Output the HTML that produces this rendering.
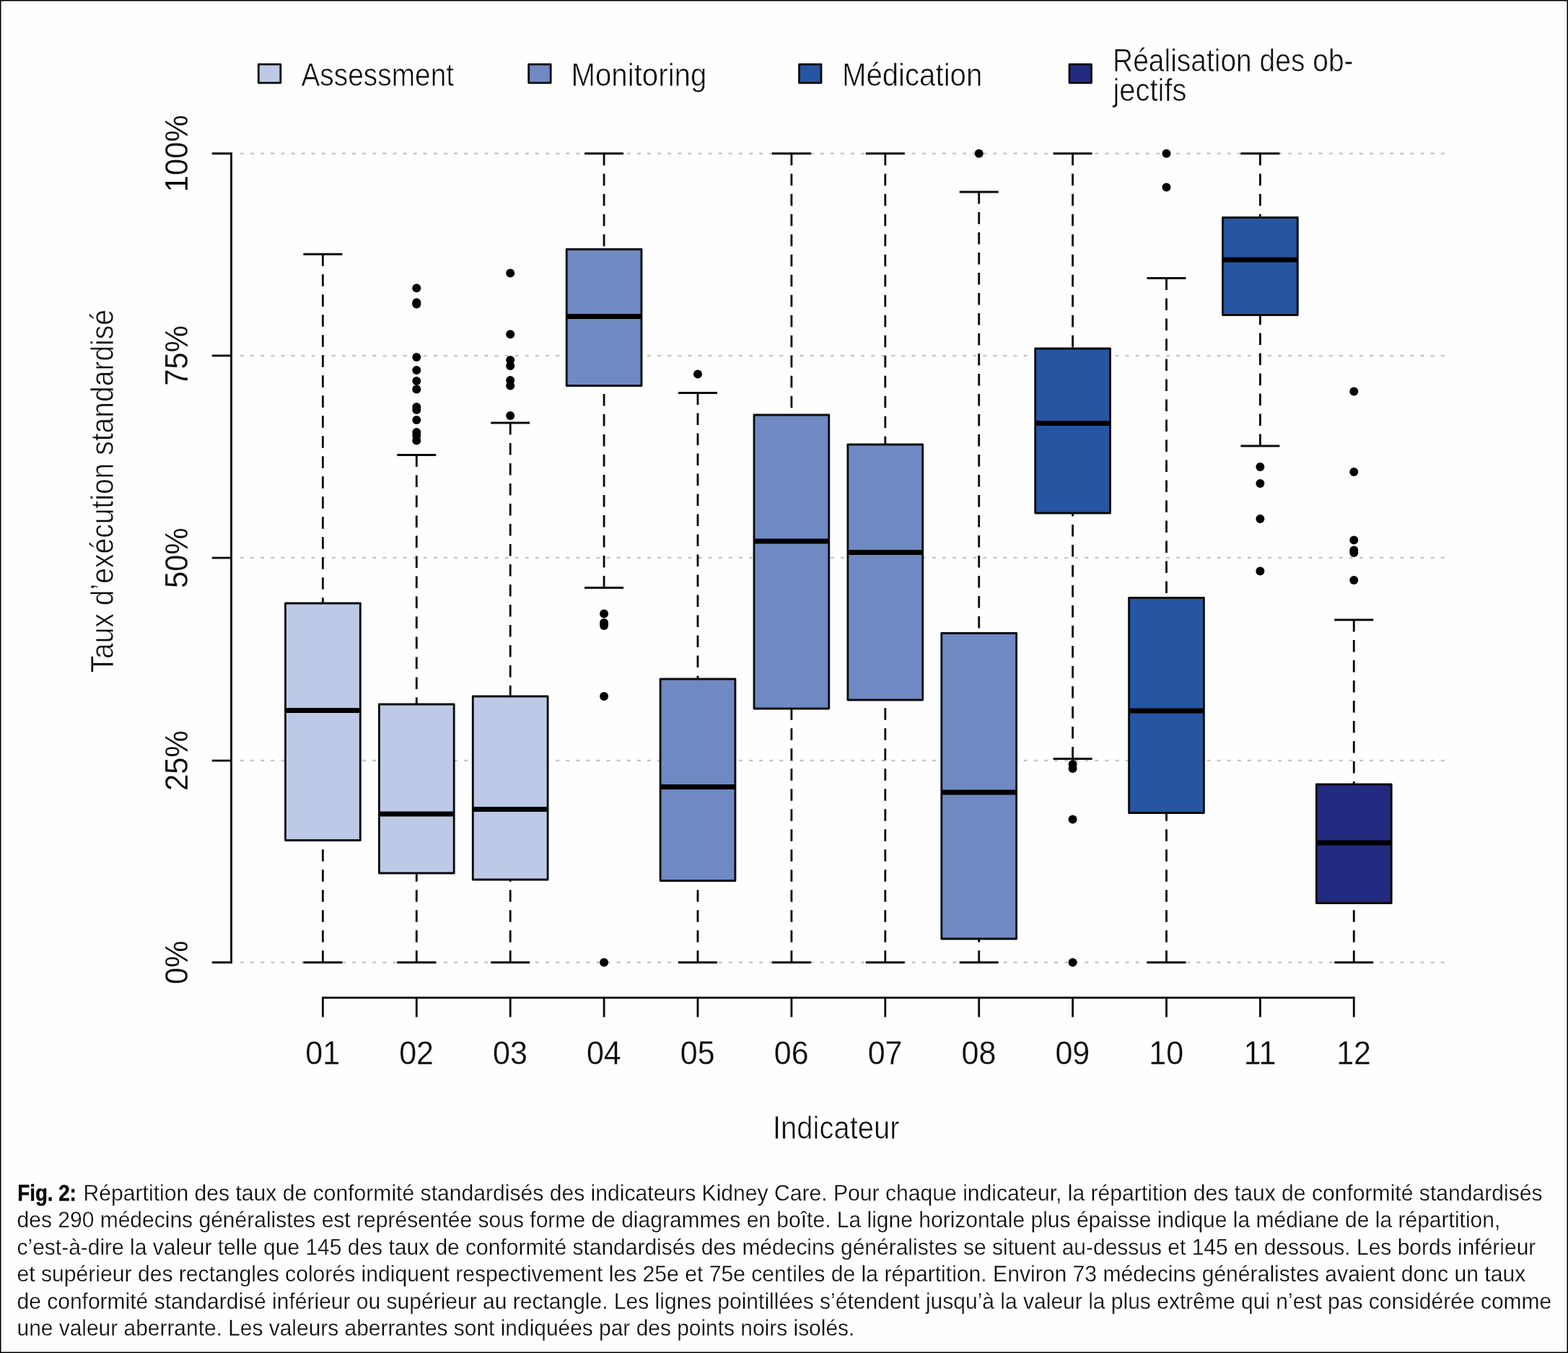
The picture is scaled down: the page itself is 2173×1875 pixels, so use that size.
<!DOCTYPE html>
<html lang="fr"><head><meta charset="utf-8">
<title>Fig. 2</title>
<style>
html,body{margin:0;padding:0;background:#fff;}
body{width:2173px;height:1875px;overflow:hidden;position:relative;}
svg{position:absolute;left:0;top:0;display:block;}
text{font-family:"Liberation Sans",sans-serif;fill:#0a0a0a;stroke:#fefefe;stroke-linejoin:round;}
.lg{font-size:44px;stroke-width:0.7px;}
.ax{font-size:45.5px;stroke-width:0.25px;}
.ay{font-size:44px;stroke-width:0.15px;}
.cap{font-size:31.5px;stroke-width:0.3px;}
.b{font-weight:bold;stroke:#0a0a0a;stroke-width:0.5px;}
</style></head><body>
<svg width="2173" height="1875" viewBox="0 0 2173 1875">
<rect x="0" y="0" width="2173" height="1875" fill="#fefefe"/>
<rect x="0" y="0" width="2173" height="1875" fill="none" stroke="#000" stroke-width="3"/>
<g stroke="#c6c6c6" stroke-width="2.5" stroke-dasharray="2.8 11.3" stroke-linecap="round" fill="none">
<line x1="334.1" y1="1333.75" x2="2006" y2="1333.75"/>
<line x1="334.1" y1="1054.10" x2="2006" y2="1054.10"/>
<line x1="334.1" y1="773.10" x2="2006" y2="773.10"/>
<line x1="334.1" y1="492.90" x2="2006" y2="492.90"/>
<line x1="334.1" y1="212.75" x2="2006" y2="212.75"/>
</g>
<rect x="358.30" y="89.20" width="30.5" height="25.6" fill="#bdc9e7" stroke="#0a0a0a" stroke-width="2.8" stroke-linejoin="round"/>
<text class="lg" x="417.40" y="119.30" textLength="211.70" lengthAdjust="spacingAndGlyphs">Assessment</text>
<rect x="732.70" y="89.20" width="30.5" height="25.6" fill="#6f89c3" stroke="#0a0a0a" stroke-width="2.8" stroke-linejoin="round"/>
<text class="lg" x="791.40" y="119.00" textLength="188.00" lengthAdjust="spacingAndGlyphs">Monitoring</text>
<rect x="1107.50" y="89.20" width="30.5" height="25.6" fill="#2656a1" stroke="#0a0a0a" stroke-width="2.8" stroke-linejoin="round"/>
<text class="lg" x="1166.90" y="119.00" textLength="194.40" lengthAdjust="spacingAndGlyphs">Médication</text>
<rect x="1482.00" y="89.20" width="30.5" height="25.6" fill="#232b81" stroke="#0a0a0a" stroke-width="2.8" stroke-linejoin="round"/>
<text class="lg" x="1542.00" y="98.50" textLength="333.60" lengthAdjust="spacingAndGlyphs">Réalisation des ob-</text>
<text class="lg" x="1542.50" y="140.00" textLength="102.00" lengthAdjust="spacingAndGlyphs">jectifs</text>
<g stroke="#0a0a0a" stroke-width="2.85" fill="none" stroke-linecap="butt">
<path d="M293.7 212.75 H320.5 V1333.75 H293.7"/>
<line x1="293.7" y1="1054.10" x2="320.5" y2="1054.10"/>
<line x1="293.7" y1="773.10" x2="320.5" y2="773.10"/>
<line x1="293.7" y1="492.90" x2="320.5" y2="492.90"/>
<path d="M447.40 1409.5 V1382.6 H1876.30 V1409.5"/>
<line x1="577.30" y1="1382.6" x2="577.30" y2="1409.5"/>
<line x1="707.20" y1="1382.6" x2="707.20" y2="1409.5"/>
<line x1="837.10" y1="1382.6" x2="837.10" y2="1409.5"/>
<line x1="967.00" y1="1382.6" x2="967.00" y2="1409.5"/>
<line x1="1096.90" y1="1382.6" x2="1096.90" y2="1409.5"/>
<line x1="1226.80" y1="1382.6" x2="1226.80" y2="1409.5"/>
<line x1="1356.70" y1="1382.6" x2="1356.70" y2="1409.5"/>
<line x1="1486.60" y1="1382.6" x2="1486.60" y2="1409.5"/>
<line x1="1616.50" y1="1382.6" x2="1616.50" y2="1409.5"/>
<line x1="1746.40" y1="1382.6" x2="1746.40" y2="1409.5"/>
</g>
<text class="ay" text-anchor="middle" transform="translate(260 1333.85) rotate(-90) scale(0.95 1)">0%</text>
<text class="ay" text-anchor="middle" transform="translate(260 1054.20) rotate(-90) scale(0.95 1)">25%</text>
<text class="ay" text-anchor="middle" transform="translate(260 773.20) rotate(-90) scale(0.95 1)">50%</text>
<text class="ay" text-anchor="middle" transform="translate(260 493.00) rotate(-90) scale(0.95 1)">75%</text>
<text class="ay" text-anchor="middle" transform="translate(260 212.85) rotate(-90) scale(0.95 1)">100%</text>
<text class="ax" text-anchor="middle" transform="translate(447.15 1474.75) scale(0.945 1)">01</text>
<text class="ax" text-anchor="middle" transform="translate(577.05 1474.75) scale(0.945 1)">02</text>
<text class="ax" text-anchor="middle" transform="translate(706.95 1474.75) scale(0.945 1)">03</text>
<text class="ax" text-anchor="middle" transform="translate(836.85 1474.75) scale(0.945 1)">04</text>
<text class="ax" text-anchor="middle" transform="translate(966.75 1474.75) scale(0.945 1)">05</text>
<text class="ax" text-anchor="middle" transform="translate(1096.65 1474.75) scale(0.945 1)">06</text>
<text class="ax" text-anchor="middle" transform="translate(1226.55 1474.75) scale(0.945 1)">07</text>
<text class="ax" text-anchor="middle" transform="translate(1356.45 1474.75) scale(0.945 1)">08</text>
<text class="ax" text-anchor="middle" transform="translate(1486.35 1474.75) scale(0.945 1)">09</text>
<text class="ax" text-anchor="middle" transform="translate(1616.25 1474.75) scale(0.945 1)">10</text>
<text class="ax" text-anchor="middle" transform="translate(1746.15 1474.75) scale(0.945 1)">11</text>
<text class="ax" text-anchor="middle" transform="translate(1876.05 1474.75) scale(0.945 1)">12</text>
<text class="lg" transform="translate(157 932.5) rotate(-90)" textLength="503.5" lengthAdjust="spacingAndGlyphs">Taux d’exécution standardisé</text>
<text class="lg" x="1071.0" y="1578.0" textLength="175.5" lengthAdjust="spacingAndGlyphs">Indicateur</text>
<g>
<g stroke="#0a0a0a" stroke-width="2.85" fill="none">
<line x1="447.40" y1="352.25" x2="447.40" y2="836.00" stroke-dasharray="16.4 11.6"/>
<line x1="447.40" y1="1333.75" x2="447.40" y2="1164.50" stroke-dasharray="16.4 11.6"/>
<line x1="420.40" y1="352.25" x2="474.40" y2="352.25"/>
<line x1="420.40" y1="1333.75" x2="474.40" y2="1333.75"/>
</g>
<rect x="395.50" y="836.00" width="103.80" height="328.50" fill="#bdc9e7" stroke="#0a0a0a" stroke-width="2.85" stroke-linejoin="round"/>
<line x1="395.50" y1="984.50" x2="499.30" y2="984.50" stroke="#000" stroke-width="7.00"/>
</g>
<g>
<g stroke="#0a0a0a" stroke-width="2.85" fill="none">
<line x1="577.30" y1="630.50" x2="577.30" y2="976.00" stroke-dasharray="16.4 11.6"/>
<line x1="577.30" y1="1333.75" x2="577.30" y2="1210.00" stroke-dasharray="16.4 11.6"/>
<line x1="550.30" y1="630.50" x2="604.30" y2="630.50"/>
<line x1="550.30" y1="1333.75" x2="604.30" y2="1333.75"/>
</g>
<rect x="525.40" y="976.00" width="103.80" height="234.00" fill="#bdc9e7" stroke="#0a0a0a" stroke-width="2.85" stroke-linejoin="round"/>
<line x1="525.40" y1="1128.00" x2="629.20" y2="1128.00" stroke="#000" stroke-width="7.00"/>
<circle cx="577.30" cy="399.25" r="6.00" fill="#000"/>
<circle cx="577.30" cy="419.20" r="6.00" fill="#000"/>
<circle cx="577.30" cy="421.60" r="6.00" fill="#000"/>
<circle cx="577.30" cy="495.00" r="6.00" fill="#000"/>
<circle cx="577.30" cy="513.00" r="6.00" fill="#000"/>
<circle cx="577.30" cy="528.00" r="6.00" fill="#000"/>
<circle cx="577.30" cy="539.50" r="6.00" fill="#000"/>
<circle cx="577.30" cy="564.00" r="6.00" fill="#000"/>
<circle cx="577.30" cy="568.00" r="6.00" fill="#000"/>
<circle cx="577.30" cy="582.00" r="6.00" fill="#000"/>
<circle cx="577.30" cy="599.00" r="6.00" fill="#000"/>
<circle cx="577.30" cy="603.50" r="6.00" fill="#000"/>
<circle cx="577.30" cy="610.50" r="6.00" fill="#000"/>
</g>
<g>
<g stroke="#0a0a0a" stroke-width="2.85" fill="none">
<line x1="707.20" y1="586.00" x2="707.20" y2="965.00" stroke-dasharray="16.4 11.6"/>
<line x1="707.20" y1="1333.75" x2="707.20" y2="1219.00" stroke-dasharray="16.4 11.6"/>
<line x1="680.20" y1="586.00" x2="734.20" y2="586.00"/>
<line x1="680.20" y1="1333.75" x2="734.20" y2="1333.75"/>
</g>
<rect x="655.30" y="965.00" width="103.80" height="254.00" fill="#bdc9e7" stroke="#0a0a0a" stroke-width="2.85" stroke-linejoin="round"/>
<line x1="655.30" y1="1121.50" x2="759.10" y2="1121.50" stroke="#000" stroke-width="7.00"/>
<circle cx="707.20" cy="378.50" r="6.00" fill="#000"/>
<circle cx="707.20" cy="463.25" r="6.00" fill="#000"/>
<circle cx="707.20" cy="499.00" r="6.00" fill="#000"/>
<circle cx="707.20" cy="507.00" r="6.00" fill="#000"/>
<circle cx="707.20" cy="527.00" r="6.00" fill="#000"/>
<circle cx="707.20" cy="534.50" r="6.00" fill="#000"/>
<circle cx="707.20" cy="576.00" r="6.00" fill="#000"/>
</g>
<g>
<g stroke="#0a0a0a" stroke-width="2.85" fill="none">
<line x1="837.10" y1="212.75" x2="837.10" y2="345.50" stroke-dasharray="16.4 11.6"/>
<line x1="837.10" y1="814.50" x2="837.10" y2="534.50" stroke-dasharray="16.4 11.6"/>
<line x1="810.10" y1="212.75" x2="864.10" y2="212.75"/>
<line x1="810.10" y1="814.50" x2="864.10" y2="814.50"/>
</g>
<rect x="785.20" y="345.50" width="103.80" height="189.00" fill="#6f89c3" stroke="#0a0a0a" stroke-width="2.85" stroke-linejoin="round"/>
<line x1="785.20" y1="438.50" x2="889.00" y2="438.50" stroke="#000" stroke-width="7.00"/>
<circle cx="837.10" cy="850.50" r="6.00" fill="#000"/>
<circle cx="837.10" cy="863.00" r="6.00" fill="#000"/>
<circle cx="837.10" cy="867.00" r="6.00" fill="#000"/>
<circle cx="837.10" cy="965.00" r="6.00" fill="#000"/>
<circle cx="837.10" cy="1333.75" r="6.00" fill="#000"/>
</g>
<g>
<g stroke="#0a0a0a" stroke-width="2.85" fill="none">
<line x1="967.00" y1="544.50" x2="967.00" y2="941.00" stroke-dasharray="16.4 11.6"/>
<line x1="967.00" y1="1333.75" x2="967.00" y2="1220.50" stroke-dasharray="16.4 11.6"/>
<line x1="940.00" y1="544.50" x2="994.00" y2="544.50"/>
<line x1="940.00" y1="1333.75" x2="994.00" y2="1333.75"/>
</g>
<rect x="915.10" y="941.00" width="103.80" height="279.50" fill="#6f89c3" stroke="#0a0a0a" stroke-width="2.85" stroke-linejoin="round"/>
<line x1="915.10" y1="1090.50" x2="1018.90" y2="1090.50" stroke="#000" stroke-width="7.00"/>
<circle cx="967.00" cy="518.50" r="6.00" fill="#000"/>
</g>
<g>
<g stroke="#0a0a0a" stroke-width="2.85" fill="none">
<line x1="1096.90" y1="212.75" x2="1096.90" y2="575.00" stroke-dasharray="16.4 11.6"/>
<line x1="1096.90" y1="1333.75" x2="1096.90" y2="982.00" stroke-dasharray="16.4 11.6"/>
<line x1="1069.90" y1="212.75" x2="1123.90" y2="212.75"/>
<line x1="1069.90" y1="1333.75" x2="1123.90" y2="1333.75"/>
</g>
<rect x="1045.00" y="575.00" width="103.80" height="407.00" fill="#6f89c3" stroke="#0a0a0a" stroke-width="2.85" stroke-linejoin="round"/>
<line x1="1045.00" y1="750.00" x2="1148.80" y2="750.00" stroke="#000" stroke-width="7.00"/>
</g>
<g>
<g stroke="#0a0a0a" stroke-width="2.85" fill="none">
<line x1="1226.80" y1="212.75" x2="1226.80" y2="616.00" stroke-dasharray="16.4 11.6"/>
<line x1="1226.80" y1="1333.75" x2="1226.80" y2="970.00" stroke-dasharray="16.4 11.6"/>
<line x1="1199.80" y1="212.75" x2="1253.80" y2="212.75"/>
<line x1="1199.80" y1="1333.75" x2="1253.80" y2="1333.75"/>
</g>
<rect x="1174.90" y="616.00" width="103.80" height="354.00" fill="#6f89c3" stroke="#0a0a0a" stroke-width="2.85" stroke-linejoin="round"/>
<line x1="1174.90" y1="765.50" x2="1278.70" y2="765.50" stroke="#000" stroke-width="7.00"/>
</g>
<g>
<g stroke="#0a0a0a" stroke-width="2.85" fill="none">
<line x1="1356.70" y1="266.00" x2="1356.70" y2="877.50" stroke-dasharray="16.4 11.6"/>
<line x1="1356.70" y1="1333.75" x2="1356.70" y2="1301.00" stroke-dasharray="16.4 11.6"/>
<line x1="1329.70" y1="266.00" x2="1383.70" y2="266.00"/>
<line x1="1329.70" y1="1333.75" x2="1383.70" y2="1333.75"/>
</g>
<rect x="1304.80" y="877.50" width="103.80" height="423.50" fill="#6f89c3" stroke="#0a0a0a" stroke-width="2.85" stroke-linejoin="round"/>
<line x1="1304.80" y1="1098.00" x2="1408.60" y2="1098.00" stroke="#000" stroke-width="7.00"/>
<circle cx="1356.70" cy="212.75" r="6.00" fill="#000"/>
</g>
<g>
<g stroke="#0a0a0a" stroke-width="2.85" fill="none">
<line x1="1486.60" y1="212.75" x2="1486.60" y2="483.00" stroke-dasharray="16.4 11.6"/>
<line x1="1486.60" y1="1051.50" x2="1486.60" y2="711.00" stroke-dasharray="16.4 11.6"/>
<line x1="1459.60" y1="212.75" x2="1513.60" y2="212.75"/>
<line x1="1459.60" y1="1051.50" x2="1513.60" y2="1051.50"/>
</g>
<rect x="1434.70" y="483.00" width="103.80" height="228.00" fill="#2656a1" stroke="#0a0a0a" stroke-width="2.85" stroke-linejoin="round"/>
<line x1="1434.70" y1="586.50" x2="1538.50" y2="586.50" stroke="#000" stroke-width="7.00"/>
<circle cx="1486.60" cy="1059.00" r="6.00" fill="#000"/>
<circle cx="1486.60" cy="1065.00" r="6.00" fill="#000"/>
<circle cx="1486.60" cy="1135.50" r="6.00" fill="#000"/>
<circle cx="1486.60" cy="1333.75" r="6.00" fill="#000"/>
</g>
<g>
<g stroke="#0a0a0a" stroke-width="2.85" fill="none">
<line x1="1616.50" y1="385.50" x2="1616.50" y2="828.50" stroke-dasharray="16.4 11.6"/>
<line x1="1616.50" y1="1333.75" x2="1616.50" y2="1126.50" stroke-dasharray="16.4 11.6"/>
<line x1="1589.50" y1="385.50" x2="1643.50" y2="385.50"/>
<line x1="1589.50" y1="1333.75" x2="1643.50" y2="1333.75"/>
</g>
<rect x="1564.60" y="828.50" width="103.80" height="298.00" fill="#2656a1" stroke="#0a0a0a" stroke-width="2.85" stroke-linejoin="round"/>
<line x1="1564.60" y1="985.00" x2="1668.40" y2="985.00" stroke="#000" stroke-width="7.00"/>
<circle cx="1616.50" cy="212.75" r="6.00" fill="#000"/>
<circle cx="1616.50" cy="259.50" r="6.00" fill="#000"/>
</g>
<g>
<g stroke="#0a0a0a" stroke-width="2.85" fill="none">
<line x1="1746.40" y1="212.75" x2="1746.40" y2="301.50" stroke-dasharray="16.4 11.6"/>
<line x1="1746.40" y1="618.00" x2="1746.40" y2="436.50" stroke-dasharray="16.4 11.6"/>
<line x1="1719.40" y1="212.75" x2="1773.40" y2="212.75"/>
<line x1="1719.40" y1="618.00" x2="1773.40" y2="618.00"/>
</g>
<rect x="1694.50" y="301.50" width="103.80" height="135.00" fill="#2656a1" stroke="#0a0a0a" stroke-width="2.85" stroke-linejoin="round"/>
<line x1="1694.50" y1="360.00" x2="1798.30" y2="360.00" stroke="#000" stroke-width="7.00"/>
<circle cx="1746.40" cy="647.00" r="6.00" fill="#000"/>
<circle cx="1746.40" cy="670.00" r="6.00" fill="#000"/>
<circle cx="1746.40" cy="719.00" r="6.00" fill="#000"/>
<circle cx="1746.40" cy="791.50" r="6.00" fill="#000"/>
</g>
<g>
<g stroke="#0a0a0a" stroke-width="2.85" fill="none">
<line x1="1876.30" y1="859.00" x2="1876.30" y2="1087.00" stroke-dasharray="16.4 11.6"/>
<line x1="1876.30" y1="1333.75" x2="1876.30" y2="1251.50" stroke-dasharray="16.4 11.6"/>
<line x1="1849.30" y1="859.00" x2="1903.30" y2="859.00"/>
<line x1="1849.30" y1="1333.75" x2="1903.30" y2="1333.75"/>
</g>
<rect x="1824.40" y="1087.00" width="103.80" height="164.50" fill="#232b81" stroke="#0a0a0a" stroke-width="2.85" stroke-linejoin="round"/>
<line x1="1824.40" y1="1168.00" x2="1928.20" y2="1168.00" stroke="#000" stroke-width="7.00"/>
<circle cx="1876.30" cy="542.50" r="6.00" fill="#000"/>
<circle cx="1876.30" cy="654.00" r="6.00" fill="#000"/>
<circle cx="1876.30" cy="748.50" r="6.00" fill="#000"/>
<circle cx="1876.30" cy="762.50" r="6.00" fill="#000"/>
<circle cx="1876.30" cy="766.00" r="6.00" fill="#000"/>
<circle cx="1876.30" cy="804.00" r="6.00" fill="#000"/>
</g>
<text class="cap b" x="24.30" y="1663.80" textLength="81.50" lengthAdjust="spacingAndGlyphs">Fig. 2:</text>
<text class="cap" x="115.60" y="1663.80" textLength="2022.00" lengthAdjust="spacingAndGlyphs">Répartition des taux de conformité standardisés des indicateurs Kidney Care. Pour chaque indicateur, la répartition des taux de conformité standardisés</text>
<text class="cap" x="23.50" y="1701.40" textLength="2055.80" lengthAdjust="spacingAndGlyphs">des 290 médecins généralistes est représentée sous forme de diagrammes en boîte. La ligne horizontale plus épaisse indique la médiane de la répartition,</text>
<text class="cap" x="23.50" y="1739.00" textLength="2104.80" lengthAdjust="spacingAndGlyphs">c’est-à-dire la valeur telle que 145 des taux de conformité standardisés des médecins généralistes se situent au-dessus et 145 en dessous. Les bords inférieur</text>
<text class="cap" x="23.50" y="1776.20" textLength="2090.80" lengthAdjust="spacingAndGlyphs">et supérieur des rectangles colorés indiquent respectivement les 25e et 75e centiles de la répartition. Environ 73 médecins généralistes avaient donc un taux</text>
<text class="cap" x="23.50" y="1814.00" textLength="2126.80" lengthAdjust="spacingAndGlyphs">de conformité standardisé inférieur ou supérieur au rectangle. Les lignes pointillées s’étendent jusqu’à la valeur la plus extrême qui n’est pas considérée comme</text>
<text class="cap" x="23.50" y="1851.10" textLength="1160.80" lengthAdjust="spacingAndGlyphs">une valeur aberrante. Les valeurs aberrantes sont indiquées par des points noirs isolés.</text>
</svg>
</body></html>
